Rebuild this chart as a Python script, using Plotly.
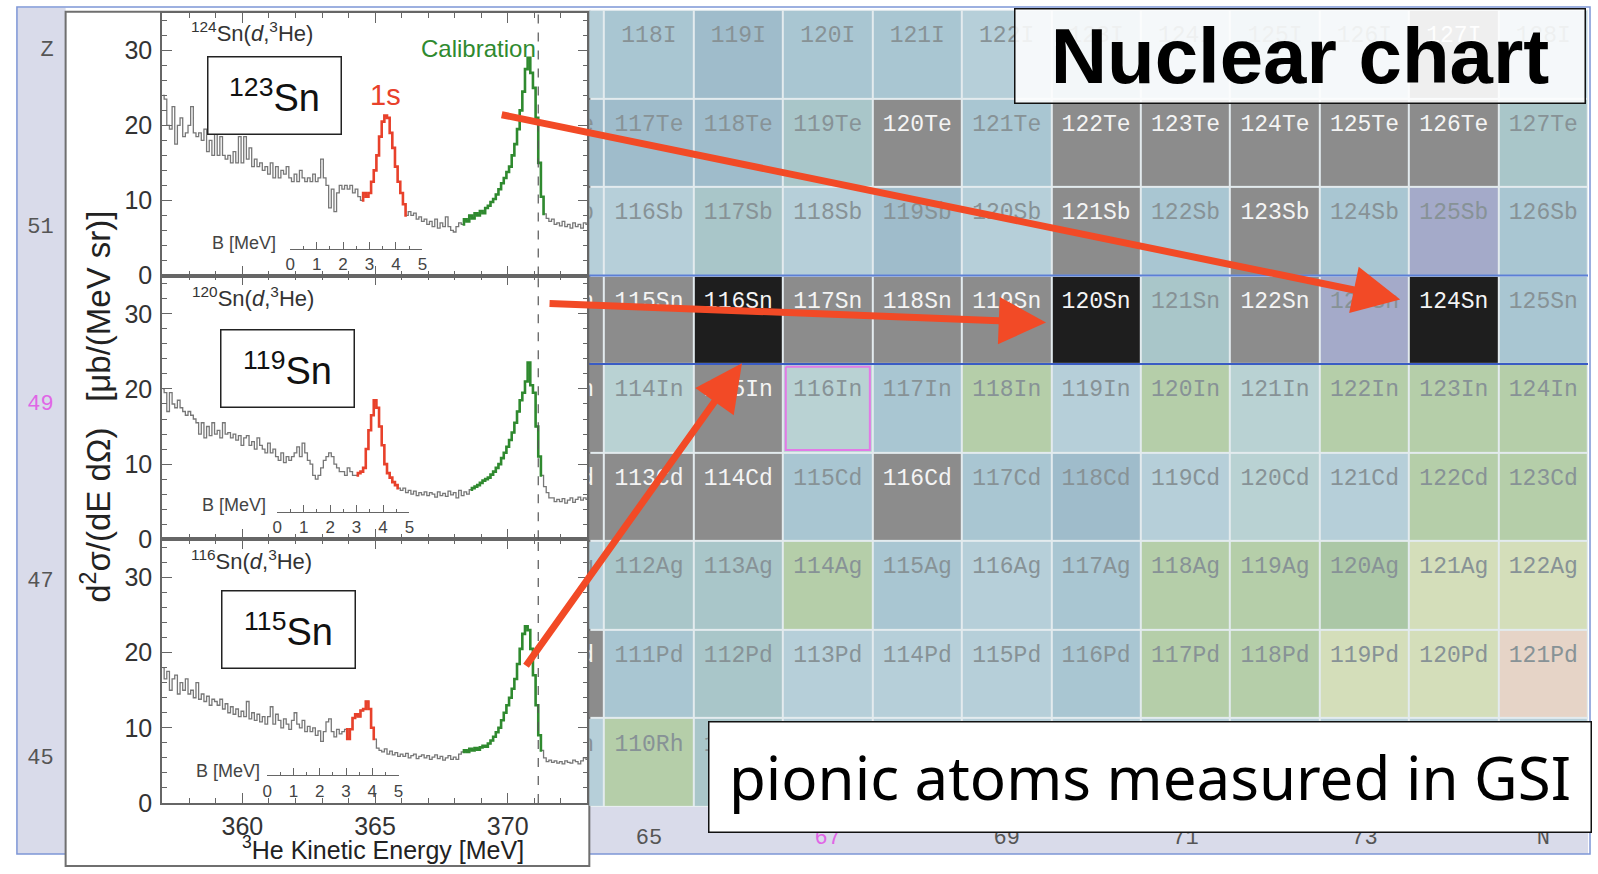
import numpy as np
import plotly.graph_objects as go

W, H = 1598, 874

# ------------------------------------------------------------------ data
# bin centres of the (d,3He) spectra [MeV]
energy_mev = np.round(np.arange(357.0, 373.05, 0.1), 1)

counts_124sn = [
    24, 23.5, 20, 19.5, 22.5, 17.5, 20, 21, 18.5, 19,
    20, 22.5, 19, 18.5, 19, 18, 19.5, 16.5, 18, 16,
    19, 16, 18.5, 16, 15.5, 16, 15, 16.5, 15, 18.5,
    15, 18.5, 15.5, 17, 14.5, 15.5, 14.5, 15, 14, 14.5,
    13.5, 15, 13, 14.5, 13, 14, 13.5, 14.5, 13, 12.5,
    13.5, 12.5, 14, 13, 12.5, 13, 12.5, 13.5, 12.5, 13,
    15.5, 13, 12, 9, 11.5, 8.5, 11, 12, 11.5, 12,
    11.5, 12, 11, 11.5, 10.5, 10, 11, 10.5, 11, 12.5,
    14, 16, 18.5, 20.5, 21.3, 21, 19, 17, 14.5, 12.5,
    11, 9.5, 8, 8.5, 8, 8.3, 7.5, 7.8, 7.2, 7.5,
    6.8, 7.2, 6.5, 7.5, 6.3, 7, 6.5, 7.8, 6.5, 6,
    5.8, 6.5, 7, 6.8, 7.5, 7.2, 8, 7.6, 8.3, 8,
    8.6, 8.3, 9, 9.3, 9.8, 10.2, 10.8, 11.5, 12.3, 13,
    13.8, 14.5, 16, 17.5, 19.5, 22, 24.5, 27.5, 29, 27,
    25, 21, 15, 10.5, 8.2, 7.6, 7.2, 7.5, 6.8, 7,
    6.6, 7.2, 6.5, 6.8, 6.3, 7, 6.5, 6.8, 6.3, 7,
    6.8,
]
counts_120sn = [
    20, 19.5, 17, 19.5, 18, 17.5, 18.5, 17.5, 17, 16.5,
    17, 16.5, 16, 15.5, 14, 15.5, 13.5, 15, 13.8, 15.5,
    14, 14.5, 13.5, 15.5, 14, 14.2, 13.5, 14, 13.2, 13.8,
    12.5, 13.5, 13.8, 12.5, 13, 12, 13.5, 12.5, 12, 11.5,
    12.8, 11.5, 12, 11, 10.5, 11.5, 10.2, 11, 10.5, 11,
    11.5, 12.3, 11, 12.8, 11.5, 10.5, 10, 8.5, 8, 8.5,
    9.5, 10.5, 11, 11.5, 11, 10, 9.5, 9, 9, 8.5,
    9.5, 9, 8.5, 8.5, 8.8, 9, 9.5, 12, 14.5, 16.5,
    18.5, 17.5, 15, 12.5, 10, 8.8, 8.2, 7.6, 7.2, 6.8,
    6.5, 6.8, 6.2, 6.5, 6, 6.4, 5.8, 6.2, 5.9, 6.3,
    5.8, 6.2, 6, 5.6, 6.3, 5.8, 6.1, 5.7, 6.4, 5.9,
    6.2, 5.5, 6.5, 5.8, 6.3, 6, 6.6, 6.8, 7, 7.2,
    7.5, 7.8, 8, 8.2, 8.6, 9, 9.5, 10, 10.8, 11.5,
    12.3, 13.2, 14.2, 15.5, 17, 18.5, 19.5, 21, 23.5, 20.5,
    19.5, 15, 11, 8.5, 7, 6.2, 5.5, 5.5, 5, 5.3,
    5, 5.4, 4.8, 5.2, 5.5, 4.9, 5.3, 5.6, 5.2, 5.5,
    5.3,
]
counts_116sn = [
    18, 16.5, 17.5, 15, 16.5, 17, 14.5, 16, 15, 16.5,
    14.5, 15, 14, 16, 13.8, 14.5, 13.5, 14.2, 13, 13.8,
    13.5, 13, 13.8, 12.5, 13.2, 12, 12.8, 11.8, 12.5, 11.5,
    12.2, 11.5, 13.5, 11.2, 12, 11, 11.8, 10.8, 11.5, 10.5,
    11.5, 12.8, 10.5, 11.8, 11, 10, 11.2, 10.5, 9.8, 11,
    12, 10.5, 10, 11, 9.5, 10.2, 9.5, 10, 9, 9.6,
    8.2, 9.5, 10.8, 11.2, 9.5, 8.8, 9.8, 9.2, 9.5, 9.8,
    8.5, 9.8, 11.3, 11.8, 11.5, 12.3, 12.5, 13.5, 12.5, 10,
    8.5, 7.3, 7, 6.8, 7.2, 6.5, 6.9, 6.4, 6.7, 6.2,
    6.5, 6.2, 6.6, 6, 6.3, 6.5, 5.9, 6.2, 6.4, 6,
    6.3, 5.8, 6.1, 6.4, 5.9, 6.2, 5.7, 6, 6.3, 5.8,
    6.1, 5.8, 6.5, 6.8, 7, 6.8, 7.2, 7, 7.3, 7.1,
    7.4, 7.6, 7.5, 7.9, 8.3, 8.8, 9.4, 10, 11, 12,
    13, 14, 15.2, 16.5, 18.5, 20.5, 22.5, 23.5, 23, 20.5,
    17, 13, 9, 7, 6, 5.5, 5.7, 5.4, 5.6, 5.3,
    5.5, 5.2, 5.6, 5.4, 5.3, 5.7, 5.5, 5.2, 5.6, 6,
    5.8,
]
spectra_counts = [counts_124sn, counts_120sn, counts_116sn]
reaction_labels = ['<sup>124</sup>Sn(<i>d</i>,<sup>3</sup>He)',
                   '<sup>120</sup>Sn(<i>d</i>,<sup>3</sup>He)',
                   '<sup>116</sup>Sn(<i>d</i>,<sup>3</sup>He)']
residual_labels = ['<sup>123</sup>Sn', '<sup>119</sup>Sn', '<sup>115</sup>Sn']
peak_1s_ranges = [(364.5, 366.2), (364.3, 365.9), (363.9, 365.0)]
calibration_ranges = [(368.3, 371.4), (368.6, 371.3), (368.3, 371.3)]
calibration_energy = 371.15
energy_ticks = [360, 365, 370]
binding_ticks = [0, 1, 2, 3, 4, 5]

# nuclear chart
neutron_numbers = list(range(64, 76))
proton_numbers = [45, 46, 47, 48, 49, 50, 51, 52, 53]
element_symbols = ['Rh', 'Pd', 'Ag', 'Cd', 'In', 'Sn', 'Sb', 'Te', 'I']
cell_class = [   # rows follow proton_numbers, columns follow neutron_numbers
    ['e2', 'G', 'e4', 'e2', 'e2', 'e2', 'e2', 'e2', 'e2', 'e2', 'e2', 'e2'],   # Rh
    ['S', 'e1', 'e4', 'e2', 'e2', 'e2', 'e1', 'G', 'G', 'Y', 'Y', 'P'],       # Pd
    ['e2', 'e4', 'e4', 'G', 'e1', 'e2', 'e1', 'G', 'G', 'G2', 'Y', 'Y'],      # Ag
    ['S', 'S', 'S', 'e1', 'S', 'e1', 'e3', 'e2', 'e5', 'e2', 'G', 'G'],       # Cd
    ['S', 'e5', 'S', 'e5', 'e1', 'G', 'e2', 'G', 'e5', 'G', 'G', 'G'],        # In
    ['S', 'S', 'T', 'S', 'S', 'S', 'T', 'e4', 'S', 'L', 'T', 'e1'],           # Sn
    ['e2', 'e2', 'e4', 'e2', 'e3', 'e2', 'S', 'e1', 'S', 'e1', 'L', 'e1'],    # Sb
    ['e3', 'e3', 'e3', 'e4', 'S', 'e1', 'S', 'S', 'S', 'S', 'S', 'e4'],       # Te
    ['e2', 'e1', 'e3', 'e1', 'e1', 'e2', 'e1', 'e2', 'e1', 'e2', 'S', 'e2'],  # I
]
pionic_targets = [(50, 74), (50, 70), (50, 66)]   # (Z, N) of 124Sn, 120Sn, 116Sn
z_axis_labels = {53: 'Z', 51: '51', 49: '49', 47: '47', 45: '45'}
n_axis_labels = {65: '65', 67: '67', 69: '69', 71: '71', 73: '73', 75: 'N'}

# ------------------------------------------------------------------ styles
class_colors = {
    'S': '#8c8c8c', 'T': '#1e1e1e',
    'e1': '#a9c6d2', 'e2': '#b6cfd9', 'e3': '#9fbccb', 'e4': '#a9c6c9', 'e5': '#b9d2d3',
    'G': '#b5cea9', 'G2': '#abc7a6', 'Y': '#d4deba', 'L': '#a4aac9', 'P': '#e6d4c7',
}
class_keys = list(class_colors)
SANS = 'Liberation Sans, Arial, sans-serif'
MONO = 'Liberation Mono, Courier New, monospace'
RED, GREEN, ARROW = '#e8412b', '#2f8a2f', '#f24a26'
AX = '#666666'


def fx(px):
    return px / W


def fy(py):
    return 1 - py / H


panel_px = [(13, 280), (280, 548), (548, 816)]          # top/bottom of each spectrum panel
panel_ytop = [35.0, 35.1, 35.1]
spec_x_px = (158, 586)
b_axis_px = [(287, 420, 253), (274, 407, 520), (264, 396, 788)]
chart_x_px = (588, 1593)
chart_y_px = (10, 820)
cell_px = 90.0
n_lo = neutron_numbers[-1] + 0.5 - (chart_x_px[1] - chart_x_px[0]) / cell_px

fig = go.Figure()

# ------------------------------------------------------------------ nuclear chart
zmap = [[class_keys.index(c) for c in row] for row in cell_class]
K = len(class_keys)
colorscale = [[i / (K - 1), class_colors[k]] for i, k in enumerate(class_keys)]
fig.add_trace(go.Heatmap(
    x=neutron_numbers, y=proton_numbers, z=zmap, zmin=0, zmax=K - 1,
    colorscale=colorscale, showscale=False, xgap=2, ygap=2, hoverinfo='skip',
    xaxis='x4', yaxis='y4'))

lab_x, lab_y, lab_t, lab_c = [], [], [], []
for r, zp in enumerate(proton_numbers):
    for c, nn in enumerate(neutron_numbers):
        lab_x.append(nn)
        lab_y.append(zp + 0.2)
        lab_t.append(f'{nn + zp}{element_symbols[r]}')
        lab_c.append('#f4f4f4' if cell_class[r][c] in ('S', 'T') else '#879296')
fig.add_trace(go.Scatter(
    x=lab_x, y=lab_y, text=lab_t, mode='text', cliponaxis=True,
    textfont=dict(family=MONO, size=23, color=lab_c), hoverinfo='skip',
    xaxis='x4', yaxis='y4'))

# Sn row borders and 116In frame
sn_z = pionic_targets[0][0]
for dz, col in ((0.5, '#5b7fd6'), (-0.5, '#3a5cc4')):
    fig.add_trace(go.Scatter(
        x=[neutron_numbers[0] - 0.5, neutron_numbers[-1] + 0.5], y=[sn_z + dz] * 2,
        mode='lines', line=dict(color=col, width=2), hoverinfo='skip',
        xaxis='x4', yaxis='y4'))
in_n, in_z = 67, 49
fig.add_trace(go.Scatter(
    x=[in_n - 0.47, in_n + 0.47, in_n + 0.47, in_n - 0.47, in_n - 0.47],
    y=[in_z + 0.47, in_z + 0.47, in_z - 0.47, in_z - 0.47, in_z + 0.47],
    mode='lines', line=dict(color='#e27ae6', width=2), hoverinfo='skip',
    xaxis='x4', yaxis='y4'))

# ------------------------------------------------------------------ spectra
for i, counts in enumerate(spectra_counts):
    xa = 'x' if i == 0 else f'x{i + 1}'
    ya = 'y' if i == 0 else f'y{i + 1}'
    cnt = np.array(counts, dtype=float)
    fig.add_trace(go.Scatter(x=energy_mev, y=cnt, mode='lines',
                             line=dict(color='#777777', width=1.3, shape='hvh'),
                             hoverinfo='skip', xaxis=xa, yaxis=ya))
    for (lo, hi), colr in ((peak_1s_ranges[i], RED), (calibration_ranges[i], GREEN)):
        m = (energy_mev >= lo - 1e-6) & (energy_mev <= hi + 1e-6)
        fig.add_trace(go.Scatter(x=energy_mev[m], y=cnt[m], mode='lines',
                                 line=dict(color=colr, width=2.6, shape='hvh'),
                                 hoverinfo='skip', xaxis=xa, yaxis=ya))
    # binding-energy axis carrier
    fig.add_trace(go.Scatter(x=[None], y=[None], mode='markers', hoverinfo='skip',
                             showlegend=False, xaxis=f'x{5 + i}', yaxis=ya))

# ------------------------------------------------------------------ layout
layout = dict(
    width=W, height=H, margin=dict(l=0, r=0, t=0, b=0),
    paper_bgcolor='white', plot_bgcolor='rgba(0,0,0,0)', showlegend=False,
    font=dict(family=SANS, color='#333333'),
)

spec_dom_x = [fx(spec_x_px[0]), fx(spec_x_px[1])]
for i in range(3):
    sfx = '' if i == 0 else str(i + 1)
    top, bot = panel_px[i]
    layout['xaxis' + sfx] = dict(
        domain=spec_dom_x, range=[356.97, 373.0], anchor='y' + sfx,
        showline=True, linecolor=AX, linewidth=1.5, mirror='ticks',
        ticks='inside', ticklen=10, tickwidth=1.3, tickcolor=AX,
        tickvals=energy_ticks, showticklabels=(i == 2),
        tickfont=dict(size=25, family=SANS, color='#333'),
        minor=dict(dtick=1, tick0=360, ticks='inside', ticklen=5, tickcolor=AX),
        showgrid=False, zeroline=False)
    layout['yaxis' + sfx] = dict(
        domain=[fy(bot), fy(top)], range=[0, panel_ytop[i]], anchor='x' + sfx,
        showline=True, linecolor=AX, linewidth=1.5, mirror='ticks',
        ticks='inside', ticklen=10, tickwidth=1.3, tickcolor=AX,
        tickvals=[0, 10, 20, 30], tickfont=dict(size=25, family=SANS, color='#333'),
        ticklabelstandoff=3,
        minor=dict(dtick=2, ticks='inside', ticklen=5, tickcolor=AX),
        showgrid=False, zeroline=False)
    bx0, bx1, by = b_axis_px[i]
    layout[f'xaxis{5 + i}'] = dict(
        domain=[fx(bx0), fx(bx1)], range=[0, 5], anchor='free', position=fy(by),
        showline=True, linecolor=AX, linewidth=1.3, ticks='inside', ticklen=7,
        tickcolor=AX, tickvals=binding_ticks, ticklabelstandoff=0,
        tickfont=dict(size=17, family=SANS, color='#444'),
        minor=dict(dtick=0.5, ticks='inside', ticklen=3, tickcolor=AX),
        showgrid=False, zeroline=False)

layout['xaxis4'] = dict(
    domain=[fx(chart_x_px[0]), fx(chart_x_px[1])],
    range=[n_lo, neutron_numbers[-1] + 0.5], anchor='y4',
    showgrid=False, zeroline=False, showline=False, ticks='',
    tickvals=list(n_axis_labels),
    ticktext=[('<span style="color:#e066e6">%s</span>' % t) if n == 67 else t
              for n, t in n_axis_labels.items()],
    tickfont=dict(family=MONO, size=22, color='#555'), ticklabelstandoff=14)
layout['yaxis4'] = dict(
    domain=[fy(chart_y_px[1]), fy(chart_y_px[0])],
    range=[proton_numbers[0] - 0.5, proton_numbers[-1] + 0.5],
    anchor='free', position=fx(57), side='left',
    showgrid=False, zeroline=False, showline=False, ticks='',
    tickvals=list(z_axis_labels),
    ticktext=[('<span style="color:#e066e6">%s</span>' % t) if z == 49 else t
              for z, t in z_axis_labels.items()],
    tickfont=dict(family=MONO, size=22, color='#555'), ticklabelstandoff=8,
    ticklabelshift=-6)

# ------------------------------------------------------------------ background shapes
shapes = [
    # lavender Z column and N row
    dict(type='rect', xref='paper', yref='paper', x0=fx(12), x1=fx(61), y0=fy(868), y1=fy(8),
         fillcolor='#d9dbea', line=dict(width=0), layer='below'),
    dict(type='rect', xref='x4 domain', yref='paper', x0=0, x1=1, y0=fy(868), y1=fy(chart_y_px[1]),
         fillcolor='#d9dbea', line=dict(width=0), layer='below'),
    # gaps between cells
    dict(type='rect', xref='x4 domain', yref='y4 domain', x0=0, x1=1, y0=0, y1=1,
         fillcolor='#e3ebee', line=dict(width=0), layer='below'),
    # outer frame
    dict(type='rect', xref='paper', yref='paper', x0=fx(12), x1=fx(1595), y0=fy(868), y1=fy(7),
         fillcolor='rgba(0,0,0,0)', line=dict(color='#7d96d6', width=1.5), layer='below'),
    # white spectrum panel
    dict(type='rect', xref='paper', yref='paper', x0=fx(61), x1=fx(588), y0=fy(880), y1=fy(12),
         fillcolor='white', line=dict(color='#6f6f6f', width=2), layer='below'),
]
for i in range(3):
    sfx = '' if i == 0 else str(i + 1)
    shapes.append(dict(type='line', xref='x' + sfx, yref=f'y{sfx} domain',
                       x0=calibration_energy, x1=calibration_energy, y0=0, y1=1,
                       line=dict(color='#555', width=1.2, dash='dash'), layer='above'))
layout['shapes'] = shapes

# ------------------------------------------------------------------ annotations
C = dict(xanchor='center', yanchor='middle', showarrow=False)
ann = []
reaction_pos = [(360.35, 32.5), (360.4, 32.3), (360.35, 32.4)]
box_pos = [(361.2, 24.0), (361.7, 22.7), (361.75, 23.1)]
blabel_pos = [(360.05, 4.3), (359.7, 4.6), (359.45, 4.3)]
for i in range(3):
    sfx = '' if i == 0 else str(i + 1)
    ann.append(dict(xref='x' + sfx, yref='y' + sfx, x=reaction_pos[i][0], y=reaction_pos[i][1],
                    text=reaction_labels[i], font=dict(size=22, family=SANS, color='#333'), **C))
    ann.append(dict(xref='x' + sfx, yref='y' + sfx, x=box_pos[i][0], y=box_pos[i][1],
                    text=residual_labels[i], width=128, height=72,
                    bgcolor='white', bordercolor='#222', borderwidth=1.5, borderpad=2,
                    font=dict(size=38, family=SANS, color='#111'), **C))
    ann.append(dict(xref='x' + sfx, yref='y' + sfx, x=blabel_pos[i][0], y=blabel_pos[i][1],
                    text='B [MeV]', font=dict(size=18, family=SANS, color='#444'), **C))
ann.append(dict(xref='x', yref='y', x=365.4, y=24.1, text='1s',
                font=dict(size=29, family=SANS, color=RED), **C))
ann.append(dict(xref='x', yref='y', x=368.9, y=30.3, text='Calibration',
                font=dict(size=24, family=SANS, color=GREEN), **C))
ann.append(dict(xref='paper', yref='paper', x=fx(92), y=fy(413), textangle=-90,
                text='d<sup>2</sup>σ/(dE dΩ)\u2002 [μb/(MeV sr)]',
                font=dict(size=33, family=SANS, color='#222'), **C))
ann.append(dict(xref='paper', yref='paper', x=fx(380), y=fy(862),
                text='<sup>3</sup>He Kinetic Energy [MeV]',
                font=dict(size=25, family=SANS, color='#222'), **C))
ann.append(dict(xref='paper', yref='paper', x=fx(1303.5), y=fy(56.5),
                text='<b>Nuclear chart</b>', width=569, height=93,
                bgcolor='rgba(255,255,255,0.86)', bordercolor='#111', borderwidth=1.5,
                borderpad=0, font=dict(size=78, family=SANS, color='black'), **C))
ann.append(dict(xref='paper', yref='paper', x=fx(1152.5), y=fy(789.5),
                text='pionic atoms measured in GSI', width=881, height=109,
                bgcolor='white', bordercolor='#111', borderwidth=1.5,
                borderpad=0, font=dict(size=60, family='Noto Sans, sans-serif', color='black'), **C))
# arrows from the spectra to the pionic-atom targets
tip_offsets = [(-0.6, 0.23), (-0.56, -0.03), (0.04, -0.49)]
tail_px = [(-900, -185), (-498, -19), (-217, 304)]
for (zt, nt), (dn, dz), (axp, ayp) in zip(pionic_targets, tip_offsets, tail_px):
    ann.append(dict(xref='x4', yref='y4', x=nt + dn, y=zt + dz, text='', showarrow=True,
                    ax=axp, ay=ayp, arrowhead=2, arrowsize=1.35, arrowwidth=7,
                    arrowcolor=ARROW, standoff=0))
layout['annotations'] = ann

fig.update_layout(**layout)
# remove the default page margin so the figure fills the window exactly
fig.write_html('out.html', config={'displayModeBar': False},
               post_script="document.body.style.margin='0';"
                           "document.body.style.overflow='hidden';")
